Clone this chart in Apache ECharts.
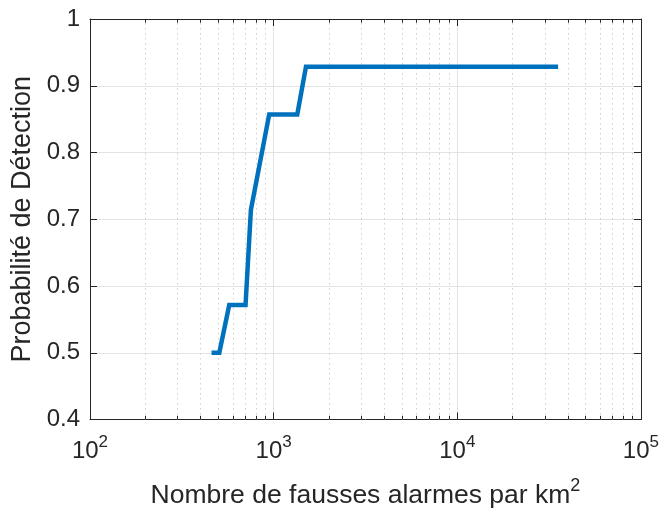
<!DOCTYPE html>
<html><head><meta charset="utf-8">
<script src="https://cdn.jsdelivr.net/npm/echarts@6/dist/echarts.min.js"></script>
<style>html,body{margin:0;padding:0;background:#fff}#c{width:662px;height:514px}</style>
</head><body><div id="c"></div>
<script>
const falseAlarms = [459, 506, 573, 703, 752, 946, 1345, 1500, 35400];
const detectionProb = [0.5, 0.5, 0.5714, 0.5714, 0.7143, 0.8571, 0.8571, 0.9286, 0.9286];
const yTicks = [0.4, 0.5, 0.6, 0.7, 0.8, 0.9, 1];
const xDecades = [100, 1000, 10000, 100000];
const minorX = [];
[100, 1000, 10000].forEach(d => { for (let m = 2; m <= 9; m++) minorX.push(m * d); });

const font = '"Liberation Sans", Arial, Helvetica, sans-serif';
const ink = '#262626';
const chart = echarts.init(document.getElementById('c'), null, {renderer: 'canvas'});
const sup = n => '{b|10}{s|' + n + '}';
const minorTickLines = [];
minorX.forEach(v => {
  minorTickLines.push([{coord: [v, 0.4]}, {coord: [v, 0.4055]}]);
  minorTickLines.push([{coord: [v, 1]}, {coord: [v, 0.9945]}]);
});
chart.setOption({
  animation: false,
  backgroundColor: '#fff',
  grid: {left: 90, right: 21, top: 19, bottom: 92},
  xAxis: [{
    type: 'log', min: 100, max: 100000, logBase: 10,
    axisLine: {show: true, onZero: false, lineStyle: {color: ink, width: 1}},
    axisTick: {show: true, inside: true, length: 7, lineStyle: {color: ink}},
    splitLine: {show: true, lineStyle: {color: '#e3e3e3', width: 1}},
    axisLabel: {
      margin: 14, color: ink, fontFamily: font,
      formatter: v => sup(Math.round(Math.log10(v))),
      rich: {b: {fontSize: 24, fontFamily: font, color: ink, lineHeight: 36},
             s: {fontSize: 17, fontFamily: font, color: ink, lineHeight: 17, verticalAlign: 'top'}}
    },
    name: '{n|Nombre de fausses alarmes par km}{s|2}',
    nameLocation: 'middle', nameGap: 58,
    nameTextStyle: {
      rich: {n: {fontSize: 26.5, fontFamily: font, color: ink, lineHeight: 36},
             s: {fontSize: 18, fontFamily: font, color: ink, lineHeight: 18, verticalAlign: 'top'}}
    }
  }, {
    type: 'log', min: 100, max: 100000, logBase: 10, position: 'top',
    axisLine: {show: true, lineStyle: {color: ink, width: 1}},
    axisTick: {show: true, inside: true, length: 7, lineStyle: {color: ink}},
    axisLabel: {show: false}, splitLine: {show: false}
  }],
  yAxis: [{
    type: 'value', min: 0.4, max: 1, interval: 0.1,
    axisLine: {show: true, lineStyle: {color: ink, width: 1}},
    axisTick: {show: true, inside: true, length: 7, lineStyle: {color: ink}},
    splitLine: {show: true, lineStyle: {color: '#e3e3e3', width: 1}},
    axisLabel: {margin: 10, color: ink, fontSize: 24, fontFamily: font,
      formatter: v => (Math.round(v * 10) / 10).toString()},
    name: 'Probabilité de Détection', nameLocation: 'middle', nameGap: 52,
    nameTextStyle: {fontSize: 27, fontFamily: font, color: ink}
  }, {
    type: 'value', min: 0.4, max: 1, interval: 0.1, position: 'right',
    axisLine: {show: true, lineStyle: {color: ink, width: 1}},
    axisTick: {show: true, inside: true, length: 7, lineStyle: {color: ink}},
    axisLabel: {show: false}, splitLine: {show: false}
  }],
  series: [{
    type: 'line',
    data: falseAlarms.map((x, i) => [x, detectionProb[i]]),
    showSymbol: false, symbol: 'none',
    lineStyle: {color: '#0072BD', width: 4.5, join: 'miter'},
    z: 5,
    markLine: {
      silent: true, symbol: 'none', label: {show: false},
      lineStyle: {color: '#cfcfcf', type: [1.5, 3.5], width: 1},
      data: minorX.map(v => ({xAxis: v}))
    }
  }, {
    type: 'line', data: [], z: 6,
    markLine: {
      silent: true, symbol: 'none', label: {show: false},
      lineStyle: {color: ink, type: 'solid', width: 1},
      data: minorTickLines
    }
  }]
});
</script></body></html>
